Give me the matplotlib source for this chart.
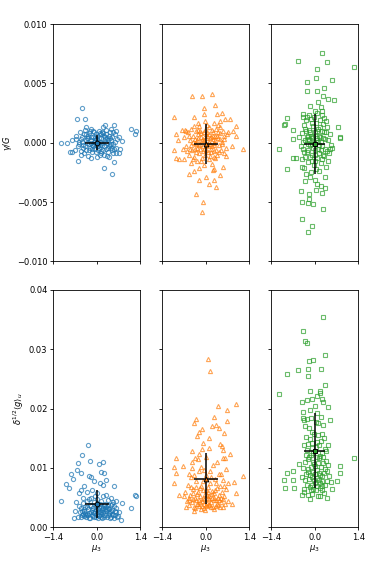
import numpy as np
import matplotlib
matplotlib.use("Agg")
import matplotlib.pyplot as plt

# (mu3, gamma/G * 1e3) and (mu3, delta^1/2 <g>_u * 1e3)
blue_top = [
    (-0.46, 2.9), (-0.38, 2.0), (-0.62, 2.0), (0.27, 1.5), (0.56, 1.5), (1.11, 1.2), (1.25, 1.0), (1.21, 0.7),
    (-1.15, 0.0), (-0.95, 0.0), (-0.78, 0.2), (-0.87, -0.8), (-0.78, -0.8), (-0.6, -1.5), (-0.49, -1.0),
    (0.24, -2.1), (0.48, -2.6), (0.56, -1.6), (0.81, 0.15), (0.75, -0.5), (0.63, -0.9),
    (-0.65, 0.6), (-0.55, 0.9), (-0.5, 0.3), (-0.45, -0.2), (-0.42, 0.7), (-0.38, 1.1), (-0.35, -0.6),
    (-0.32, 0.4), (-0.3, 0.0), (-0.28, -1.1), (-0.25, 0.8), (-0.22, -0.4), (-0.2, 0.2), (-0.18, 1.2),
    (-0.15, -0.8), (-0.12, 0.5), (-0.1, -0.1), (-0.08, 0.9), (-0.05, -0.5), (-0.03, 0.3), (0.0, -1.2),
    (0.02, 0.6), (0.05, -0.3), (0.07, 1.0), (0.1, 0.1), (0.12, -0.7), (0.15, 0.4), (0.17, -0.2), (0.2, 0.8),
    (0.22, -1.0), (0.25, 0.3), (0.28, -0.5), (0.3, 1.1), (0.33, 0.0), (0.35, -0.8), (0.38, 0.6), (0.4, -0.3),
    (0.43, 0.9), (0.45, 0.2), (0.48, -0.6), (0.5, 0.5), (0.53, -0.1), (0.57, 0.7), (0.6, -0.4), (0.65, 0.3),
    (0.7, -0.9), (0.72, 0.5), (-0.6, -0.3), (-0.58, 0.1), (-0.52, -0.7), (-0.48, 0.5), (-0.4, -0.9),
    (-0.36, 0.2), (-0.27, 0.6), (-0.24, -0.1), (-0.17, 0.0), (-0.13, -0.3), (-0.07, 0.4), (-0.02, -0.8),
    (0.03, 0.1), (0.08, -0.4), (0.13, 0.7), (0.18, 0.0), (0.23, -0.3), (0.27, 0.5), (0.32, -1.1), (0.37, 0.2),
    (0.42, -0.2), (0.47, 1.2), (0.52, -0.9), (0.58, 0.1), (-0.7, -0.6), (-0.68, 0.3), (-0.43, -0.4),
    (-0.33, 1.3), (-0.11, 1.0), (0.0, 0.3), (0.09, -1.0), (0.19, 1.3), (0.39, -1.2), (0.62, 1.0),
    (-0.2, -1.3), (0.11, 0.8), (-0.05, 0.2), (0.04, -0.6),
    (-0.34, 0.7), (-0.26, -0.6), (-0.19, 0.5), (-0.14, -0.5), (-0.09, 0.1), (-0.04, 0.7), (0.01, -0.3),
    (0.06, 0.4), (0.11, -0.2), (0.16, 0.9), (0.21, -0.6), (0.26, 0.1), (0.31, 0.7), (0.36, -0.4), (0.41, 0.4),
    (0.46, -0.1), (0.51, 0.9), (0.55, -0.5), (-0.56, -0.1), (-0.47, 0.1), (-0.39, -0.3), (-0.29, 0.4),
    (-0.23, 1.0), (-0.16, -0.2), (0.14, -0.9), (0.24, 0.6), (0.34, 0.4), (0.44, -0.4),
]
blue_bot = [
    (-0.27, 13.8), (-0.46, 12.1), (-0.6, 10.8), (-0.22, 11.1), (0.08, 10.7), (0.19, 11.0), (-0.62, 9.6),
    (-0.51, 9.2), (-0.81, 9.0), (-0.77, 8.1), (-0.24, 8.7), (-0.17, 8.5), (-0.09, 7.8), (0.13, 9.3),
    (0.23, 9.1), (0.28, 8.0), (0.1, 7.4), (0.19, 7.1), (-0.98, 7.3), (-0.89, 6.6), (-0.41, 6.9), (-0.51, 6.3),
    (-0.56, 5.7), (0.56, 6.9), (-1.15, 4.5), (0.81, 4.1), (1.24, 5.4), (1.26, 5.3), (1.11, 3.2), (-0.74, 1.6),
    (0.78, 1.3), (-0.3, 6.0), (-0.15, 6.2), (0.0, 5.8), (0.3, 5.5), (0.45, 5.0), (-0.45, 5.0), (0.6, 4.5),
    (-0.65, 4.2), (-0.7, 2.8), (0.7, 2.5), (0.65, 1.8), (0.55, 1.5), (-0.6, 1.8),
    (-0.55, 2.5), (-0.5, 3.2), (-0.48, 2.0), (-0.44, 4.1), (-0.4, 2.7), (-0.37, 3.5), (-0.35, 1.8),
    (-0.32, 4.5), (-0.3, 2.3), (-0.28, 3.0), (-0.25, 1.6), (-0.22, 3.8), (-0.2, 2.6), (-0.18, 5.0),
    (-0.15, 2.0), (-0.12, 3.3), (-0.1, 4.2), (-0.08, 1.7), (-0.05, 2.8), (-0.03, 3.6), (0.0, 2.2), (0.02, 4.8),
    (0.05, 3.0), (0.07, 1.9), (0.1, 3.9), (0.12, 2.5), (0.15, 4.4), (0.17, 1.6), (0.2, 3.2), (0.22, 2.1),
    (0.25, 4.0), (0.28, 2.7), (0.3, 3.5), (0.33, 1.8), (0.35, 4.6), (0.38, 2.4), (0.4, 3.1), (0.43, 1.6),
    (0.45, 3.8), (0.48, 2.2), (0.5, 2.9), (0.53, 4.3), (0.57, 2.0), (0.6, 3.3), (0.63, 2.6), (0.68, 1.9),
    (-0.58, 3.6), (-0.52, 1.7), (-0.42, 3.0), (-0.33, 2.0), (-0.26, 4.8), (-0.16, 2.9), (-0.06, 5.3),
    (0.04, 1.5), (0.09, 2.6), (0.14, 3.4), (0.19, 5.2), (0.24, 1.7), (0.31, 2.9), (0.36, 3.7), (0.41, 2.5),
    (0.46, 1.8), (0.55, 3.6), (-0.45, 2.3), (-0.21, 1.5), (0.0, 4.0), (0.27, 3.0), (0.5, 4.0), (-0.1, 2.4),
    (0.12, 1.8),
    (-0.38, 2.2), (-0.31, 3.4), (-0.24, 2.4), (-0.17, 3.6), (-0.11, 1.9), (-0.04, 3.1), (0.03, 2.6),
    (0.08, 3.5), (0.13, 2.2), (0.18, 2.9), (0.23, 3.7), (0.29, 2.0), (0.34, 3.0), (0.39, 2.1), (0.44, 2.7),
    (0.51, 2.0), (0.58, 2.8), (-0.47, 2.8), (-0.41, 1.9), (-0.27, 2.0), (-0.13, 2.6), (0.06, 2.0), (0.21, 2.6),
    (0.37, 3.3), (-0.02, 1.8), (0.16, 3.1),
]
orange_top = [
    (-0.44, 3.9), (-0.12, 3.9), (0.2, 4.1), (-0.07, 2.9), (0.31, 3.2), (-1.02, 2.2), (-0.39, 2.2), (-0.07, 2.4),
    (0.36, 2.4), (0.52, 2.5), (0.61, 2.0), (0.79, 2.0), (-0.26, 1.7), (-0.02, 1.8), (0.25, 1.7), (0.45, 1.8),
    (0.98, 1.4), (-0.77, 1.1), (-0.63, 1.0), (-0.95, 0.7), (0.7, 0.9), (0.88, 1.0), (0.96, 0.6), (-1.02, -0.6),
    (-0.74, -0.5), (0.83, -0.3), (1.2, -0.5), (-0.95, -1.3), (-0.85, -1.4), (-0.69, -1.4), (-0.48, -1.7),
    (-0.28, -1.5), (-0.07, -1.9), (0.2, -1.8), (0.27, -2.2), (0.23, -2.3), (-0.39, -2.4), (-0.23, -2.1),
    (-0.2, -3.1), (0.0, -2.9), (0.28, -3.1), (0.33, -3.7), (-0.1, -5.0), (-0.12, -5.8), (-0.3, -4.3),
    (0.1, -3.5), (-0.9, 0.2), (0.55, -2.0), (-0.55, -2.6), (0.45, -2.7),
    (-0.68, 0.5), (-0.62, -0.3), (-0.58, 0.9), (-0.55, -1.0), (-0.5, 0.2), (-0.47, 1.2), (-0.44, -0.6),
    (-0.4, 0.6), (-0.37, -1.2), (-0.34, 0.0), (-0.31, 1.0), (-0.28, -0.4), (-0.25, 0.4), (-0.22, -0.9),
    (-0.2, 1.4), (-0.17, -0.1), (-0.14, 0.8), (-0.11, -1.3), (-0.08, 0.3), (-0.05, -0.5), (-0.02, 1.1),
    (0.0, -0.2), (0.03, 0.6), (0.06, -0.8), (0.09, 1.3), (0.12, 0.1), (0.15, -1.1), (0.18, 0.5), (0.21, -0.3),
    (0.24, 0.9), (0.27, -0.7), (0.3, 0.2), (0.33, 1.2), (0.36, -1.0), (0.39, 0.4), (0.42, -0.2), (0.45, 0.8),
    (0.48, -0.6), (0.51, 0.1), (0.54, 1.0), (0.57, -0.9), (0.6, 0.3), (0.64, -0.4), (0.68, 0.7), (-0.6, -0.7),
    (-0.52, 0.6), (-0.46, -0.2), (-0.38, 1.4), (-0.32, -0.8), (-0.26, 0.7), (-0.19, -0.5), (-0.13, 0.2),
    (-0.07, 0.9), (-0.03, -1.0), (0.02, 0.4), (0.07, -0.3), (0.11, 0.7), (0.16, -0.5), (0.2, 1.1), (0.26, 0.0),
    (0.31, -1.3), (0.35, 0.6), (0.41, -0.8), (0.46, 1.3), (0.52, -0.1), (0.58, 0.6), (-0.15, -1.5), (0.05, 1.5),
    (-0.35, 0.3), (0.14, -0.1), (-0.09, -0.7), (0.23, 0.3), (-0.42, -1.4), (0.38, 1.5), (-0.24, 1.1),
    (0.0, 0.7), (0.1, -1.4), (-0.3, -0.1), (0.29, 0.6), (-0.65, 1.1), (0.66, -1.1),
    (-0.33, -0.5), (-0.27, 0.2), (-0.21, -0.2), (-0.16, 0.5), (-0.1, -0.3), (-0.04, 0.2), (0.01, -0.6),
    (0.04, 0.9), (0.08, -0.1), (0.13, 0.4), (0.17, -0.8), (0.22, 0.6), (0.28, -0.2), (0.34, -0.6),
    (0.4, 0.9), (0.47, 0.3), (-0.41, 0.1), (-0.49, -0.5), (0.25, -1.2), (-0.18, 1.0),
]
orange_bot = [
    (0.06, 28.3), (0.15, 26.3), (0.98, 20.8), (0.69, 19.8), (0.4, 20.5), (0.28, 18.6), (0.33, 17.2), (0.41, 16.7),
    (-0.31, 18.2), (-0.37, 17.5), (0.68, 17.9), (0.2, 17.0), (-0.11, 16.5), (-0.21, 16.0), (-0.29, 15.4),
    (0.6, 15.9), (0.11, 15.0), (0.47, 14.1), (-0.1, 14.2), (-0.45, 12.8), (-0.11, 13.2), (0.09, 13.4),
    (0.51, 13.7), (0.55, 13.1), (-0.95, 11.7), (0.79, 12.3), (-0.34, 11.7), (-0.2, 12.3), (0.55, 11.7),
    (0.63, 11.7), (-1.02, 10.1), (-0.74, 10.4), (-0.43, 11.0), (0.64, 9.8), (-0.95, 9.1), (-1.02, 7.5),
    (-0.52, 9.0), (0.49, 8.9), (0.55, 7.9), (0.9, 7.7), (0.71, 7.4), (1.2, 8.6), (0.98, 5.7), (-0.85, 5.4),
    (-0.71, 5.3), (0.84, 3.9), (-0.36, 2.7), (-0.02, 2.9), (0.63, 4.0),
    (-0.65, 6.0), (-0.6, 4.5), (-0.57, 7.2), (-0.53, 3.8), (-0.5, 5.5), (-0.47, 8.5), (-0.44, 4.2), (-0.41, 6.4),
    (-0.38, 3.5), (-0.35, 5.0), (-0.32, 7.8), (-0.29, 4.0), (-0.26, 6.0), (-0.23, 9.5), (-0.2, 3.6),
    (-0.18, 5.2), (-0.15, 7.0), (-0.12, 4.4), (-0.09, 6.3), (-0.06, 3.3), (-0.03, 5.6), (0.0, 8.8), (0.03, 4.1),
    (0.06, 6.8), (0.09, 3.7), (0.12, 5.3), (0.15, 7.5), (0.18, 4.3), (0.21, 6.1), (0.24, 3.4), (0.27, 5.0),
    (0.3, 8.2), (0.33, 4.6), (0.36, 6.6), (0.39, 3.8), (0.42, 5.4), (0.45, 7.0), (0.48, 4.2), (0.52, 6.0),
    (0.56, 3.5), (0.6, 5.2), (0.65, 6.5), (0.7, 4.5), (-0.62, 3.4), (-0.48, 6.8), (-0.4, 4.8), (-0.33, 3.2),
    (-0.27, 5.6), (-0.22, 4.6), (-0.16, 10.2), (-0.1, 5.0), (-0.04, 4.0), (0.01, 6.2), (0.07, 5.0), (0.13, 9.5),
    (0.19, 5.6), (0.25, 4.6), (0.31, 6.2), (0.37, 4.0), (0.43, 9.0), (0.5, 5.0), (0.58, 6.9), (-0.55, 5.0),
    (-0.3, 6.8), (-0.08, 7.8), (0.1, 4.0), (0.28, 3.0), (0.46, 3.4), (-0.14, 3.0), (0.04, 3.6), (0.22, 10.5),
    (-0.45, 10.0), (0.35, 11.0), (-0.25, 11.5), (0.02, 11.8), (-0.05, 9.6), (0.16, 8.4), (-0.36, 8.8),
    (-0.31, 4.6), (-0.24, 3.9), (-0.17, 4.3), (-0.11, 3.6), (-0.05, 4.8), (0.0, 3.8), (0.05, 5.4), (0.11, 4.7),
    (0.16, 3.5), (0.2, 4.9), (0.26, 5.8), (0.32, 3.6), (0.38, 5.0), (0.44, 4.6), (-0.42, 5.7), (-0.52, 4.6),
    (0.54, 4.8), (-0.19, 6.6), (0.08, 6.0), (0.34, 7.4),
]
green_top = [
    (0.25, 7.6), (-0.54, 6.9), (0.38, 6.8), (1.26, 6.4), (0.06, 6.2), (0.04, 5.5), (0.55, 5.3), (-0.24, 5.1),
    (-0.26, 4.4), (0.06, 4.4), (0.31, 4.6), (0.28, 3.9), (0.43, 3.7), (0.61, 3.6), (0.12, 3.4), (-0.14, 3.1),
    (0.02, 2.7), (0.19, 3.0), (0.23, 2.7), (-0.88, 2.1), (-0.95, 1.6), (-0.98, 1.5), (-0.37, 2.2), (-0.25, 2.2),
    (0.75, 1.3), (-0.68, 1.1), (-0.7, 0.3), (0.82, 0.5), (0.8, 0.4), (-1.15, -0.5), (0.55, -0.4), (0.5, -0.5),
    (-0.68, -1.3), (-0.6, -1.3), (-0.9, -2.2), (-0.4, -2.0), (0.33, -2.9), (-0.31, -3.2), (-0.15, -2.9),
    (0.0, -3.1), (0.07, -3.5), (0.21, -3.6), (0.32, -3.8), (0.03, -4.0), (0.25, -4.2), (-0.45, -4.1),
    (-0.19, -4.3), (-0.18, -4.7), (-0.21, -5.1), (-0.06, -5.2), (-0.4, -5.0), (0.26, -5.6), (-0.41, -6.4),
    (-0.08, -7.0), (-0.22, -7.5),
    (-0.42, 0.8), (-0.38, -0.5), (-0.35, 1.5), (-0.32, -1.2), (-0.3, 0.2), (-0.27, 1.9), (-0.25, -0.8),
    (-0.22, 0.6), (-0.2, -1.6), (-0.18, 1.1), (-0.15, -0.2), (-0.13, 2.0), (-0.1, -1.0), (-0.08, 0.4),
    (-0.05, 1.4), (-0.03, -1.9), (0.0, 0.9), (0.02, -0.6), (0.05, 1.7), (0.07, -1.3), (0.1, 0.1), (0.12, 1.2),
    (0.15, -0.9), (0.17, 0.5), (0.2, -1.7), (0.22, 1.0), (0.25, -0.3), (0.27, 1.6), (0.3, -1.1), (0.32, 0.3),
    (0.35, 0.9), (0.38, -0.7), (0.4, 1.3), (0.43, -1.5), (-0.4, -1.4), (-0.36, 0.1), (-0.33, -2.1),
    (-0.28, 1.0), (-0.23, -0.1), (-0.19, 2.3), (-0.16, -1.2), (-0.11, 0.6), (-0.06, -0.4), (-0.01, 2.2),
    (0.04, -2.2), (0.08, 1.0), (0.13, -0.2), (0.18, 1.9), (0.23, -1.4), (0.28, 0.4), (0.33, -0.5), (0.37, 1.8),
    (0.42, 0.2), (0.45, -0.9), (-0.44, -0.3), (0.48, 0.7), (-0.12, -2.5), (0.09, 2.5), (-0.02, 0.0),
    (0.14, -2.4), (0.3, 2.1), (-0.29, -2.6), (0.0, -1.5), (-0.21, 0.3), (0.19, -0.6), (0.06, 0.4), (-0.09, 1.7),
    (0.36, -2.0), (-0.37, 2.4), (0.52, -0.2), (-0.5, 0.5),
    (-0.26, 0.5), (-0.2, -0.6), (-0.14, 0.9), (-0.09, -0.1), (-0.04, 0.5), (0.01, -1.0), (0.05, 0.2),
    (0.11, -0.5), (0.16, 1.3), (0.21, 0.1), (0.26, -1.0), (0.31, 0.9), (-0.34, -0.8), (-0.17, 0.2),
    (0.14, 0.6), (-0.07, -1.5), (0.24, 2.3), (-0.31, 1.2),
]
green_bot = [
    (0.27, 35.4), (-0.39, 33.1), (-0.31, 31.4), (-0.26, 31.1), (0.34, 29.1), (-0.19, 28.0), (-0.06, 28.2),
    (-0.54, 26.5), (-0.23, 26.6), (0.19, 26.7), (-0.88, 25.9), (-0.22, 25.5), (-1.15, 22.4), (0.33, 24.0),
    (-0.14, 23.0), (0.18, 23.0), (0.16, 22.7), (0.07, 22.2), (-0.25, 21.5), (-0.07, 21.6), (0.23, 21.6),
    (0.28, 21.1), (-0.41, 21.1), (0.43, 20.3), (0.48, 18.0), (-0.39, 18.4), (-0.33, 18.0), (1.26, 11.6),
    (0.82, 10.4), (0.8, 9.2), (0.73, 7.8), (-0.9, 9.1), (-0.98, 8.0), (-0.94, 6.7), (-0.68, 9.5), (-0.7, 8.0),
    (-0.66, 6.7), (-0.49, 10.7), (0.55, 6.4), (0.4, 4.9), (-0.15, 4.7), (0.18, 5.3), (-0.35, 5.9), (0.52, 7.7),
    (0.45, 8.6), (-0.42, 5.5),
    (-0.38, 19.5), (-0.32, 17.0), (-0.28, 15.2), (-0.25, 13.0), (-0.22, 11.5), (-0.2, 9.8), (-0.18, 8.2),
    (-0.15, 6.8), (-0.12, 18.5), (-0.1, 16.0), (-0.08, 14.2), (-0.05, 12.5), (-0.03, 10.6), (0.0, 9.0),
    (0.02, 7.5), (0.05, 6.2), (0.07, 19.2), (0.1, 17.5), (0.12, 15.5), (0.15, 13.8), (0.17, 12.0), (0.2, 10.2),
    (0.22, 8.6), (0.25, 7.0), (0.27, 17.2), (0.3, 15.0), (0.32, 13.2), (0.35, 11.2), (0.38, 9.5), (0.4, 7.8),
    (-0.35, 13.8), (-0.3, 11.0), (-0.27, 9.0), (-0.24, 7.2), (-0.19, 16.8), (-0.16, 14.8), (-0.13, 12.2),
    (-0.11, 10.2), (-0.07, 8.4), (-0.04, 6.5), (-0.01, 15.8), (0.03, 13.5), (0.06, 11.8), (0.09, 9.6),
    (0.13, 8.0), (0.16, 6.6), (0.19, 14.5), (0.23, 12.6), (0.26, 10.8), (0.29, 9.2), (0.33, 7.2), (0.37, 12.8),
    (0.42, 10.5), (-0.4, 8.5), (-0.33, 6.5), (-0.26, 18.2), (-0.14, 19.8), (0.04, 17.8), (0.21, 18.6),
    (-0.09, 5.6), (0.11, 5.2), (0.31, 5.8), (-0.21, 5.4), (0.0, 20.4), (-0.05, 11.0), (0.08, 14.4),
    (-0.17, 11.8), (0.14, 9.2), (0.24, 15.8), (-0.29, 12.2), (0.44, 13.8), (-0.36, 10.0), (0.01, 12.8),
    (-0.02, 8.0), (0.18, 7.4),
    (-0.23, 9.4), (-0.16, 8.8), (-0.1, 7.2), (-0.04, 9.4), (0.02, 10.4), (0.07, 8.3), (0.12, 10.8),
    (0.17, 8.8), (0.22, 7.8), (0.28, 11.8), (-0.3, 8.0), (-0.13, 6.2), (0.06, 7.0), (0.25, 6.2),
    (-0.07, 13.4), (0.14, 11.6), (-0.2, 14.0), (0.34, 9.8),
]

# mean and spread markers (black crosses)
mean_x = [0.0, 0.0, 0.0]
std_x = [0.38, 0.39, 0.33]
mean_top = [0.0, -0.0001, -0.0001]
std_top = [0.00065, 0.0017, 0.0025]
mean_bot = [0.0039, 0.0082, 0.0129]
std_bot = [0.0023, 0.0043, 0.0063]

colors = ['#1f77b4', '#ff7f0e', '#2ca02c']
markers = ['o', '^', 's']
top_sets = [blue_top, orange_top, green_top]
bot_sets = [blue_bot, orange_bot, green_bot]

plt.rcParams['font.size'] = 6

fig, axes = plt.subplots(2, 3, figsize=(3.9, 5.74), dpi=100)
fig.subplots_adjust(left=0.136, right=0.919, top=0.958, bottom=0.0814, wspace=0.246, hspace=0.12)

for row, sets, means, stds in [(0, top_sets, mean_top, std_top), (1, bot_sets, mean_bot, std_bot)]:
    for col in range(3):
        ax = axes[row, col]
        pts = np.array(sets[col])
        ax.plot(pts[:, 0], pts[:, 1] * 1e-3, linestyle='none', marker=markers[col], ms=3.0,
                mfc='none', mec=colors[col], mew=0.8, alpha=0.7)
        ax.errorbar(mean_x[col], means[col], xerr=std_x[col], yerr=stds[col], fmt=markers[col],
                    color='black', ecolor='black', elinewidth=1.1, ms=3.4, mfc=colors[col],
                    mec='black', mew=0.7, zorder=5)
        ax.set_xlim(-1.4, 1.4)
        ax.set_xticks([-1.4, 0.0, 1.4])
        for s in ax.spines.values():
            s.set_linewidth(0.6)
        ax.tick_params(length=2.5, width=0.6, labelsize=6, pad=1.5)
        if row == 0:
            ax.set_ylim(-0.01, 0.01)
            ax.set_yticks([-0.01, -0.005, 0.0, 0.005, 0.01])
            ax.set_xticklabels([])
        else:
            ax.set_ylim(0, 0.04)
            ax.set_yticks([0.0, 0.01, 0.02, 0.03, 0.04])
            ax.set_xticklabels(['\u22121.4', '0.0', '1.4'])
            ax.set_xlabel(r'$\mu_3$', fontsize=6, labelpad=1)
        if col > 0:
            ax.set_yticklabels([])

axes[0, 0].set_yticklabels(['\u22120.010', '\u22120.005', '0.000', '0.005', '0.010'])
axes[1, 0].set_yticklabels(['0.00', '0.01', '0.02', '0.03', '0.04'])
axes[0, 0].set_ylabel(r'$\gamma/G$', fontsize=6, labelpad=2)
axes[1, 0].set_ylabel(r'$\delta^{1/2}\langle g\rangle_u$', fontsize=6, labelpad=2)

fig.savefig('out.png', dpi=100)
